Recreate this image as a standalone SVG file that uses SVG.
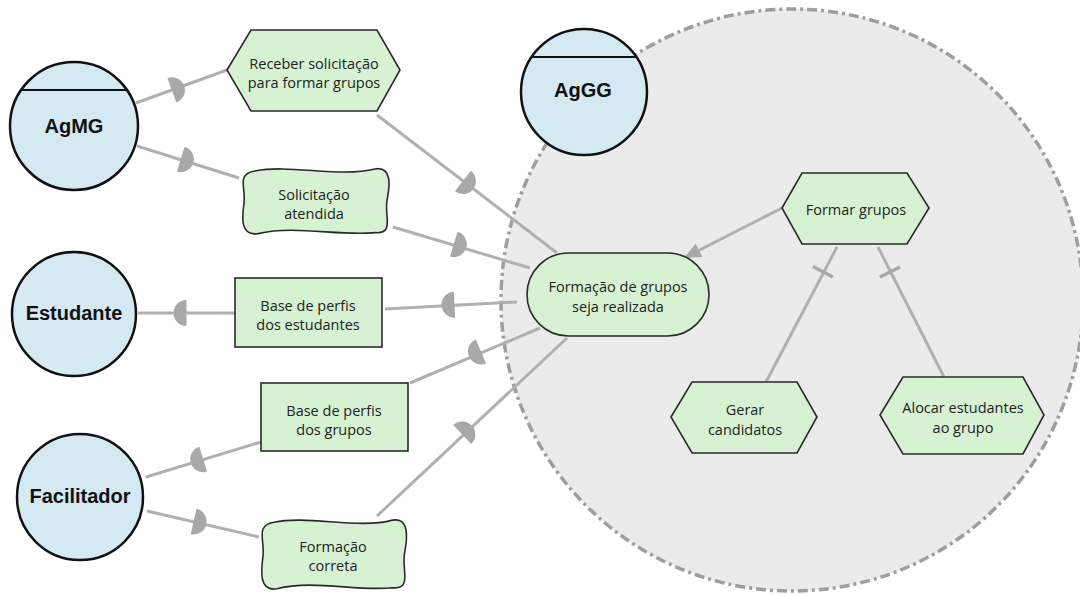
<svg xmlns="http://www.w3.org/2000/svg" width="1080" height="596" viewBox="0 0 1080 596">
<style>
.actor{fill:#d4e9f2;stroke:#111;stroke-width:2.5}
.el{fill:#d7f2d2;stroke:#2a2a2a;stroke-width:1.6}
.lnk{fill:none;stroke:#b0b0b0;stroke-width:3}
.tick{fill:none;stroke:#a8a8a8;stroke-width:3.5}
.dm{fill:#a8a8a8}
.at{font-family:"Liberation Sans",Arial,sans-serif;font-weight:bold;font-size:20px;fill:#111;text-anchor:middle}
.nt{font-family:"Open Sans","Noto Sans",sans-serif;font-size:14.5px;fill:#222;text-anchor:middle}
</style>
<defs>
<path id="D" d="M-6.5,-13 A13,13 0 0 1 -6.5,13 Z"/>
<marker id="arr" viewBox="0 0 17 15" refX="17" refY="7.5" markerWidth="17" markerHeight="15" markerUnits="userSpaceOnUse" orient="auto">
<path d="M0,0 L17,7.5 L0,15 Z" fill="#a8a8a8"/>
</marker>
<path id="soft" d="M15,5 C50,-2 100,12 135,3 C152,0 150,20 147,35 C144,50 155,70 135,68 C100,72 55,60 18,69 C0,72 2,52 4,38 C6,22 -4,8 15,5 Z"/>
</defs>

<g id="boundary-AgGG">
<circle cx="792" cy="300" r="291" fill="#ebebeb" stroke="#9e9e9e" stroke-width="3.5" stroke-dasharray="10 4 3 4"/>
</g>

<g id="connectors">
<line class="lnk" x1="136" y1="103" x2="227" y2="70"/>
<line class="lnk" x1="137" y1="146" x2="239" y2="178"/>
<line class="lnk" x1="377" y1="115" x2="557" y2="253"/>
<line class="lnk" x1="393" y1="227" x2="530" y2="268"/>
<line class="lnk" x1="138" y1="313" x2="235" y2="313"/>
<line class="lnk" x1="385" y1="309" x2="517" y2="302"/>
<line class="lnk" x1="146" y1="477" x2="261" y2="442"/>
<line class="lnk" x1="410" y1="383" x2="540" y2="328"/>
<line class="lnk" x1="147" y1="511" x2="259" y2="537"/>
<line class="lnk" x1="377" y1="516" x2="567" y2="338"/>
<line class="lnk" x1="782" y1="208" x2="684" y2="258" marker-end="url(#arr)"/>
<line class="lnk" x1="837" y1="247" x2="766" y2="382"/>
<line class="lnk" x1="878" y1="247" x2="944" y2="377"/>
<line class="tick" x1="813" y1="266.5" x2="833" y2="277"/>
<line class="tick" x1="880" y1="277" x2="900" y2="267"/>
<use href="#D" class="dm" transform="translate(178,88) rotate(-20)"/>
<use href="#D" class="dm" transform="translate(187,161) rotate(17)"/>
<use href="#D" class="dm" transform="translate(468,185) rotate(37.5)"/>
<use href="#D" class="dm" transform="translate(460,246) rotate(16.7)"/>
<use href="#D" class="dm" transform="translate(180,313) rotate(180)"/>
<use href="#D" class="dm" transform="translate(448,305) rotate(177)"/>
<use href="#D" class="dm" transform="translate(197,461) rotate(163)"/>
<use href="#D" class="dm" transform="translate(475,354) rotate(157)"/>
<use href="#D" class="dm" transform="translate(200,523) rotate(13)"/>
<use href="#D" class="dm" transform="translate(467,430) rotate(-43)"/>
</g>

<g id="AgMG">
<circle class="actor" cx="74" cy="126" r="64"/>
<line x1="21" y1="90" x2="127" y2="90" stroke="#111" stroke-width="2"/>
<text class="at" x="74" y="133">AgMG</text>
</g>
<g id="AgGG">
<circle class="actor" cx="584" cy="92" r="63"/>
<line x1="532" y1="57" x2="636" y2="57" stroke="#111" stroke-width="2"/>
<text class="at" x="583" y="97">AgGG</text>
</g>
<g id="Estudante">
<circle class="actor" cx="74" cy="314" r="62"/>
<text class="at" x="74" y="320">Estudante</text>
</g>
<g id="Facilitador">
<circle class="actor" cx="80" cy="497" r="63"/>
<text class="at" x="80" y="503">Facilitador</text>
</g>

<g id="receber">
<polygon class="el" points="227,70 251,30 377,30 400,70 377,111 251,111"/>
<text class="nt" x="314" y="69">Receber solicitação</text>
<text class="nt" x="314" y="88">para formar grupos</text>
</g>
<g id="solicitacao">
<use href="#soft" class="el" transform="translate(240,166) scale(1,0.98)"/>
<text class="nt" x="314" y="200">Solicitação</text>
<text class="nt" x="314" y="219">atendida</text>
</g>
<g id="base-estudantes">
<rect class="el" x="235" y="278" width="147" height="69"/>
<text class="nt" x="308" y="311">Base de perfis</text>
<text class="nt" x="308" y="330">dos estudantes</text>
</g>
<g id="base-grupos">
<rect class="el" x="261" y="383" width="147" height="68"/>
<text class="nt" x="334" y="416">Base de perfis</text>
<text class="nt" x="334" y="435">dos grupos</text>
</g>
<g id="formacao-correta">
<use href="#soft" class="el" transform="translate(259,517) scale(0.99,1.04)"/>
<text class="nt" x="333" y="552">Formação</text>
<text class="nt" x="333" y="571">correta</text>
</g>
<g id="goal">
<rect class="el" x="527" y="253" width="182" height="83" rx="41.5"/>
<text class="nt" x="618" y="292">Formação de grupos</text>
<text class="nt" x="618" y="312">seja realizada</text>
</g>
<g id="formar-grupos">
<polygon class="el" points="782,208 802,173 907,173 929,208 907,244 802,244"/>
<text class="nt" x="856" y="215">Formar grupos</text>
</g>
<g id="gerar">
<polygon class="el" points="671,417 692,382 797,382 817,417 797,453 692,453"/>
<text class="nt" x="745" y="415">Gerar</text>
<text class="nt" x="745" y="435">candidatos</text>
</g>
<g id="alocar">
<polygon class="el" points="880,415 903,377 1023,377 1044,415 1023,454 903,454"/>
<text class="nt" x="963" y="413">Alocar estudantes</text>
<text class="nt" x="963" y="433">ao grupo</text>
</g>
</svg>
